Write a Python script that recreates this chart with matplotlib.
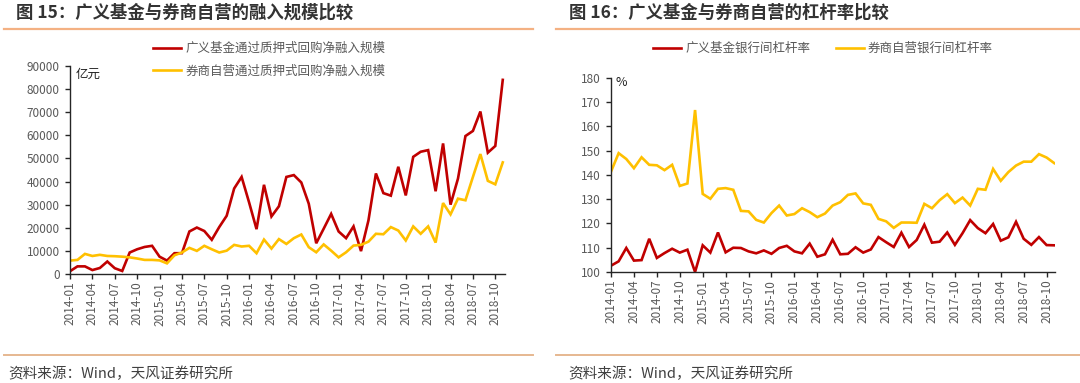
import matplotlib
matplotlib.use("Agg")
import matplotlib.pyplot as plt
from matplotlib.lines import Line2D
import pandas as pd

plt.rcParams['font.family'] = ['Noto Sans CJK SC', 'DejaVu Sans']

# ---------------- data ----------------
months = [str(p) for p in pd.period_range('2014-01', '2018-11', freq='M')]
tick_labels = ['2014-01', '2014-04', '2014-07', '2014-10', '2015-01', '2015-04', '2015-07',
               '2015-10', '2016-01', '2016-04', '2016-07', '2016-10', '2017-01', '2017-04',
               '2017-07', '2017-10', '2018-01', '2018-04', '2018-07', '2018-10']

# 亿元
fund_repo = [1200, 3300, 3300, 1700, 2600, 5400, 2500, 1300, 9300, 10700, 11700, 12200,
             7500, 5800, 9000, 9000, 18400, 20100, 18600, 14800, 20300, 25200, 37000, 42000,
             31000, 19400, 38600, 24900, 29300, 42000, 42800, 39600, 30400, 13300, 19600, 26000,
             18400, 15500, 20600, 9900, 23200, 43500, 35000, 33900, 46400, 34000, 50700, 52900,
             53600, 35800, 56500, 30000, 41300, 59700, 61900, 70300, 52500, 55400, 84000]
broker_repo = [5800, 6100, 8700, 7800, 8300, 7800, 7700, 7500, 7200, 6700, 6100, 6100,
               5900, 4600, 8100, 9300, 11300, 10000, 12200, 10700, 9300, 10100, 12600, 11900,
               12200, 9000, 14900, 11000, 15100, 13000, 15500, 17100, 11600, 9400, 12800, 10100,
               7200, 9400, 12300, 12600, 14000, 17400, 17200, 20300, 18800, 14500, 20600, 17400,
               20600, 13600, 30700, 25800, 32600, 31900, 42000, 51900, 40300, 38800, 48300]

# %
fund_lev = [102.6, 104.4, 109.9, 104.7, 104.9, 113.7, 105.8, 107.8, 109.6, 108.0, 109.2, 100.0,
            111.0, 108.0, 116.3, 108.1, 110.0, 109.9, 108.5, 107.7, 108.9, 107.5, 109.9, 110.8,
            108.5, 107.7, 111.7, 106.3, 107.3, 113.3, 107.3, 107.5, 110.2, 108.0, 109.3, 114.4,
            112.3, 110.3, 116.2, 110.3, 113.2, 119.5, 112.1, 112.5, 116.3, 111.2, 116.0, 121.4,
            118.1, 116.0, 119.8, 112.9, 114.3, 120.7, 113.7, 111.2, 114.4, 111.1, 111.0]
broker_lev = [141.4, 149.0, 146.6, 142.8, 147.3, 144.2, 144.0, 142.0, 144.2, 135.5, 136.5, 166.8,
              132.2, 130.2, 134.3, 134.6, 133.9, 125.2, 125.0, 121.5, 120.4, 124.3, 127.4, 123.3,
              123.9, 126.3, 124.7, 122.6, 124.1, 127.4, 128.8, 131.8, 132.4, 128.3, 127.7, 121.9,
              120.9, 118.2, 120.4, 120.4, 120.3, 128.1, 126.3, 129.6, 132.1, 128.4, 130.7, 127.4,
              134.3, 133.9, 142.5, 137.6, 141.2, 143.9, 145.5, 145.5, 148.6, 147.2, 144.9]

left_title = '图 15：广义基金与券商自营的融入规模比较'
right_title = '图 16：广义基金与券商自营的杠杆率比较'
left_labels = ['广义基金通过质押式回购净融入规模', '券商自营通过质押式回购净融入规模']
right_labels = ['广义基金银行间杠杆率', '券商自营银行间杠杆率']
source = '资料来源：Wind，天风证券研究所'

RED = '#C00000'
YEL = '#FFC000'
GRAY = '#595959'
TITLE_LINE = '#F4B183'
FOOT_LINE = '#E6B890'

W, H = 1080, 383
fig = plt.figure(figsize=(W / 100, H / 100), dpi=100)
fig.patch.set_facecolor('white')


def fx(px):
    return px / W


def fy(py):
    return 1 - py / H


def axes_px(l, t, r, b):
    return fig.add_axes([fx(l), fy(b), (r - l) / W, (b - t) / H])


# titles & separator lines
fig.text(fx(16), fy(13), left_title, fontsize=12.5, fontweight='bold', color='#333333',
         ha='left', va='center')
fig.text(fx(569), fy(13), right_title, fontsize=12.5, fontweight='bold', color='#333333',
         ha='left', va='center')
for (x0, x1) in [(4, 533), (556, 1080)]:
    fig.add_artist(Line2D([fx(x0), fx(x1)], [fy(29), fy(29)], color=TITLE_LINE, lw=1.6,
                          transform=fig.transFigure))
    fig.add_artist(Line2D([fx(x0), fx(x1)], [fy(355), fy(355)], color=FOOT_LINE, lw=1.4,
                          transform=fig.transFigure))
fig.text(fx(8), fy(374), source, fontsize=10.5, color='#404040', ha='left', va='center')
fig.text(fx(568), fy(374), source, fontsize=10.5, color='#404040', ha='left', va='center')

x = list(range(len(months)))
tick_pos = [months.index(t) for t in tick_labels]


def style(ax):
    for s in ['top', 'right']:
        ax.spines[s].set_visible(False)
    for s in ['left', 'bottom']:
        ax.spines[s].set_color('#262626')
        ax.spines[s].set_linewidth(1.0)
    ax.tick_params(axis='both', direction='out', length=3.5, width=1.0, color='#262626',
                   labelcolor=GRAY, labelsize=8.5)
    ax.tick_params(axis='y', pad=4)
    ax.tick_params(axis='x', pad=2)
    ax.set_xticks(tick_pos)
    ax.set_xticklabels(tick_labels, rotation=90)
    ax.set_facecolor('none')


# ---------------- left chart ----------------
ax1 = axes_px(70, 66, 505, 274)
ax1.plot(x, fund_repo, color=RED, lw=1.9, label=left_labels[0], solid_joinstyle='miter')
ax1.plot(x, broker_repo, color=YEL, lw=1.9, label=left_labels[1], solid_joinstyle='miter')
ax1.set_xlim(0, 58.3)
ax1.set_ylim(0, 90000)
ax1.set_yticks(range(0, 90001, 10000))
style(ax1)
ax1.text(fx(76), fy(74), '亿元', transform=fig.transFigure, fontsize=9, color='#222222',
         ha='left', va='center')
ax1.legend(loc='upper left', bbox_to_anchor=(fx(153), fy(42)), bbox_transform=fig.transFigure,
           frameon=False, fontsize=9, labelcolor=GRAY, borderpad=0, borderaxespad=0,
           handlelength=2.25, handletextpad=0.35, labelspacing=0.75)

# ---------------- right chart ----------------
ax2 = axes_px(611, 78, 1055, 272)
ax2.plot(x, fund_lev, color=RED, lw=1.9, label=right_labels[0], solid_joinstyle='miter')
ax2.plot(x, broker_lev, color=YEL, lw=1.9, label=right_labels[1], solid_joinstyle='miter')
ax2.set_xlim(0, 58.1)
ax2.set_ylim(100, 180)
ax2.set_yticks(range(100, 181, 10))
style(ax2)
ax2.text(fx(616), fy(82), '%', transform=fig.transFigure, fontsize=9, color='#222222',
         ha='left', va='center')
ax2.legend(loc='upper left', bbox_to_anchor=(fx(653), fy(42)), bbox_transform=fig.transFigure,
           frameon=False, fontsize=9, labelcolor=GRAY, borderpad=0, borderaxespad=0,
           handlelength=2.25, handletextpad=0.35, ncol=2, columnspacing=2.0)

fig.savefig('out.png', dpi=100, facecolor='white')
